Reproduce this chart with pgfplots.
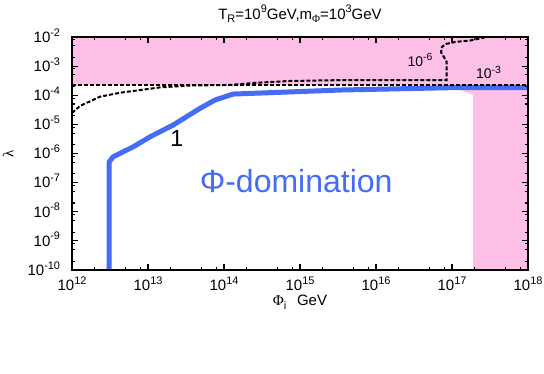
\documentclass[border=0pt]{standalone}
\usepackage{fontspec}
\setmainfont{Liberation Sans}
\newfontfamily\grk{Liberation Serif}
\usepackage{pgfplots}
\pgfplotsset{compat=1.18}
\definecolor{pinkfill}{RGB}{255,192,232}
\definecolor{phiblue}{RGB}{68,108,245}
% super/subscripts scaled to the gnuplot look
\newcommand\sps[2][8.2]{\raisebox{0.42em}{\fontsize{#1}{#1}\selectfont #2}}
\newcommand\sbs[2][8.2]{\raisebox{-0.22em}{\fontsize{#1}{#1}\selectfont #2}}
\begin{document}
\fontsize{11.25}{13.5}\selectfont
\begin{tikzpicture}
\path[use as bounding box] (-54pt,-78pt) rectangle (354pt,202.5pt);
\begin{axis}[
  scale only axis, width=342pt, height=174.75pt,
  xmode=log, ymode=log,
  xmin=1e12, xmax=1e18, ymin=1e-10, ymax=1e-2,
  xtick={1e12,1e13,1e14,1e15,1e16,1e17,1e18},
  ytick={1e-10,1e-9,1e-8,1e-7,1e-6,1e-5,1e-4,1e-3,1e-2},
  minor xtick={2e12,5e12,8e12,2e13,5e13,8e13,2e14,5e14,8e14,2e15,5e15,8e15,
    2e16,5e16,8e16,2e17,5e17,8e17},
  minor ytick={2e-10,5e-10,8e-10,2e-9,5e-9,8e-9,2e-8,5e-8,8e-8,2e-7,5e-7,8e-7,
    2e-6,5e-6,8e-6,2e-5,5e-5,8e-5,2e-4,5e-4,8e-4,2e-3,5e-3,8e-3},
  xticklabel={\pgfmathtruncatemacro\tkexp{round(\tick/ln(10))}10\sps{\tkexp}},
  yticklabel={\pgfmathtruncatemacro\tkexp{round(\tick/ln(10))}10\sps{\tkexp}},
  xticklabel style={anchor=base, yshift=-15.75pt},
  yticklabel style={anchor=base east, yshift=-4pt, xshift=-5pt},
  every tick label/.append style={font=\fontsize{11.25}{13}\selectfont},
  tick align=inside,
  major tick length=4.5pt, minor tick length=2.5pt,
  tick style={black, line width=0.8pt},
  axis line style={line width=1pt},
  axis on top,
  title={T\sbs{R}=10\sps{9}GeV,m\sbs{{\grk Φ}}=10\sps{3}GeV},
  title style={at={(0.5,1.077)}, anchor=base, yshift=-6pt, font=\fontsize{11.25}{13}\selectfont},
  xlabel={{\grk Φ}\sbs{i}\hspace{8pt}GeV},
  xlabel style={at={(0.5,-0.1545)}, anchor=base, font=\fontsize{11.25}{13}\selectfont},
  ylabel={\grk λ},
  ylabel style={at={(-0.14,0.5)}, anchor=center, font=\fontsize{11.25}{13}\selectfont},
  no markers,
]
% excluded region
\addplot[draw=none, fill=pinkfill] coordinates {
  (1e12,1e-2) (1e18,1e-2) (1e18,1e-10) (1.9e17,1e-10) (1.9e17,1.02e-4)
  (1.17e17,1.74e-4) (1.17e17,2.2e-4) (1.25e12,2.24e-4) (1e12,1.78e-4)};
% Phi = 1 contour
\addplot[phiblue, line width=3.75pt, line join=round] coordinates {
  (3.09e12,1e-10) (3.09e12,5.19e-7) (3.49e12,7.76e-7) (6.41e12,1.70e-6)
  (1.06e13,3.72e-6) (2.15e13,9.55e-6) (4.83e13,3.55e-5) (7.59e13,6.84e-5)
  (1.32e14,1.10e-4) (3.39e15,1.51e-4) (1.17e17,1.84e-4) (1e18,1.84e-4)};
% 10^-3 contour
\addplot[black, line width=1.5pt, dash pattern=on 3pt off 1.5pt] coordinates {
  (1e12,2.24e-4) (1e18,2.24e-4)};
% 10^-6 contour
\addplot[black, line width=1.5pt, dash pattern=on 3pt off 1.5pt] coordinates {
  (1e12,2.45e-5) (1.27e12,4.27e-5) (2.33e12,8.91e-5) (4.29e12,1.22e-4)
  (7.85e12,1.51e-4) (1.44e13,1.86e-4) (3.57e13,2.16e-4) (1.2e14,2.26e-4)
  (2.69e14,2.69e-4) (7.41e14,3.09e-4) (3.39e15,3.31e-4) (8.51e16,3.31e-4)
  (8.51e16,1.41e-3) (7.85e16,2.04e-3) (7.16e16,3.02e-3) (7.38e16,4.57e-3)
  (8.32e16,5.75e-3) (1.10e17,6.76e-3) (1.74e17,7.59e-3) (2.88e17,1e-2)};
\node[anchor=base, font=\fontsize{17.5}{20}\selectfont] at (axis cs:2.4e13,1.7e-6) {1};
\node[anchor=base, text=phiblue, font=\fontsize{24}{28}\selectfont] at (axis cs:8.9e14,4.47e-8) {Φ-domination};
\node[anchor=base, font=\fontsize{10.5}{12}\selectfont] at (axis cs:3.8e16,9.55e-4) {10\sps[7.8]{-6}};
\node[anchor=base, font=\fontsize{10.5}{12}\selectfont] at (axis cs:3.02e17,3.63e-4) {10\sps[7.8]{-3}};
\end{axis}
\end{tikzpicture}
\end{document}
